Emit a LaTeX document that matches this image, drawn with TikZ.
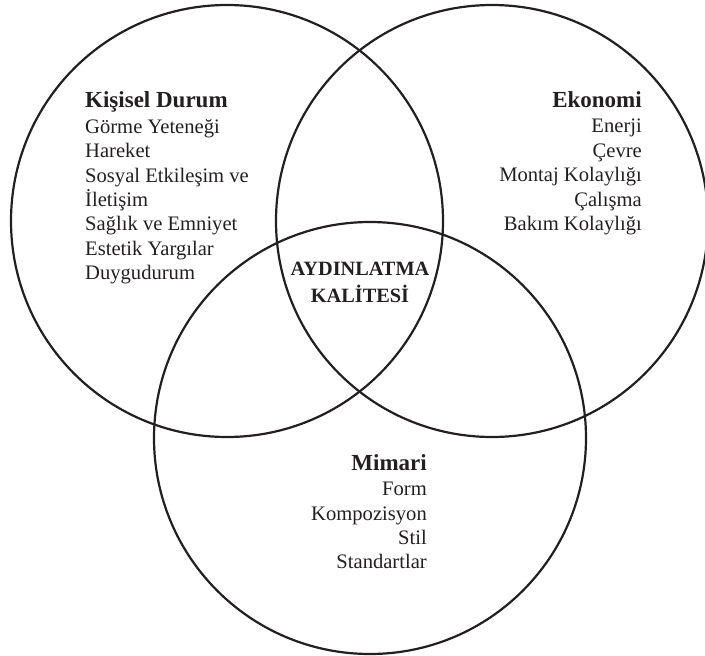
\documentclass[tikz,border=0pt]{standalone}
\usepackage{fontspec}
\setmainfont{Liberation Serif}
\definecolor{ink}{HTML}{231F20}
\tikzset{
  ring/.style={draw=ink, line width=2.2pt},
  head/.style={font=\fontsize{23}{27}\selectfont\bfseries, text=ink, inner sep=0pt},
  items/.style={font=\fontsize{20.6}{24.4}\selectfont, text=ink, inner sep=0pt},
  core/.style={font=\fontsize{20.3}{27}\selectfont\bfseries, text=ink, inner sep=0pt, align=center},
}
\begin{document}
\begin{tikzpicture}[x=1pt,y=-1pt]
      \useasboundingbox (0,0) rectangle (705,656);
      % three circles
      \draw[ring] (227,221) circle (216pt);
      \draw[ring] (492,221) circle (216pt);
      \draw[ring] (370,438) circle (216pt);
      % left circle
      \node[head, anchor=base west] (kisisel) at (85,107) {Kişisel Durum};
      \node[items, anchor=north west, align=left] (kisiselList) at (85,119) {Görme Yeteneği\\Hareket\\Sosyal Etkileşim ve\\İletişim\\Sağlık ve Emniyet\\Estetik Yargılar\\Duygudurum};
      % right circle
      \node[head, anchor=base east] (ekonomi) at (642,107) {Ekonomi};
      \node[items, anchor=north east, align=right] (ekonomiList) at (642,119) {Enerji\\Çevre\\Montaj Kolaylığı\\Çalışma\\Bakım Kolaylığı};
      % bottom circle
      \node[head, anchor=base east] (mimari) at (427,470) {Mimari};
      \node[items, anchor=north east, align=right] (mimariList) at (427,482) {Form\\Kompozisyon\\Stil\\Standartlar};
      % centre
      \node[core] (kalite) at (360,282) {AYDINLATMA\\KALİTESİ};
\end{tikzpicture}
\end{document}
